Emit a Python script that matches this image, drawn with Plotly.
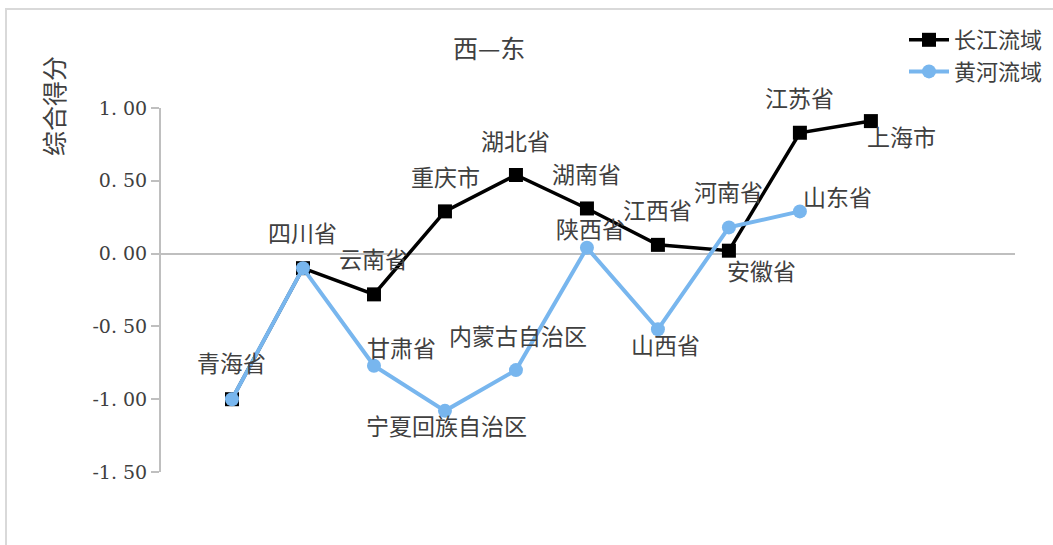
import plotly.graph_objects as go

# ---- data ----
cj_names = ["青海省", "四川省", "云南省", "重庆市", "湖北省", "湖南省", "江西省", "安徽省", "江苏省", "上海市"]
cj_values = [-1.00, -0.10, -0.28, 0.29, 0.54, 0.31, 0.06, 0.02, 0.83, 0.91]

hh_names = ["青海省", "四川省", "甘肃省", "宁夏回族自治区", "内蒙古自治区", "陕西省", "山西省", "河南省", "山东省"]
hh_values = [-1.00, -0.10, -0.77, -1.08, -0.80, 0.04, -0.52, 0.18, 0.29]

series_names = ["长江流域", "黄河流域"]
y_tick_values = [1.0, 0.5, 0.0, -0.5, -1.0, -1.5]
y_tick_labels = ["1. 00", "0. 50", "0. 00", "-0. 50", "-1. 00", "-1. 50"]
chart_title = "西—东"
y_title = "综合得分"

# ---- label offsets (pixels: dx, dy up) ----
cj_offsets = {
    "四川省": (0, 36), "云南省": (0, 36), "重庆市": (1, 35), "湖北省": (0, 35),
    "湖南省": (0, 35), "江西省": (0, 36), "安徽省": (33, -19), "江苏省": (0, 36),
    "上海市": (31, -15),
}
hh_offsets = {
    "青海省": (0, 37), "甘肃省": (28, 19), "宁夏回族自治区": (2, -14),
    "内蒙古自治区": (2, 35), "陕西省": (4, 20), "山西省": (8, -15),
    "河南省": (0, 36), "山东省": (38, 15),
}

CJK = "Noto Sans CJK SC"
TXT = "#404040"
BLACK = "#000000"
BLUE = "#78b6ee"

cj_x = list(range(1, len(cj_values) + 1))
hh_x = list(range(1, len(hh_values) + 1))

fig = go.Figure()
fig.add_trace(go.Scatter(
    x=cj_x, y=cj_values, name=series_names[0], mode="lines+markers",
    line=dict(color=BLACK, width=3.5),
    marker=dict(symbol="square", size=14, color=BLACK),
))
fig.add_trace(go.Scatter(
    x=hh_x, y=hh_values, name=series_names[1], mode="lines+markers",
    line=dict(color=BLUE, width=4),
    marker=dict(symbol="circle", size=14, color=BLUE),
))

annotations = []
for xs, ys, names, offs in [(cj_x, cj_values, cj_names, cj_offsets),
                            (hh_x, hh_values, hh_names, hh_offsets)]:
    for xv, yv, nm in zip(xs, ys, names):
        if nm not in offs:
            continue
        dx, dy = offs[nm]
        annotations.append(dict(
            x=xv, y=yv, xref="x", yref="y", text=nm, showarrow=False,
            xshift=dx, yshift=dy, font=dict(family=CJK, size=23, color=TXT),
            xanchor="center", yanchor="middle",
        ))

annotations.append(dict(
    x=(489 - 161) / 854, y=(472 - 47) / 364, xref="paper", yref="paper",
    text=chart_title, showarrow=False, xanchor="center", yanchor="middle",
    font=dict(family=CJK, size=25, color=TXT),
))
annotations.append(dict(
    x=(53 - 161) / 854, y=(472 - 106) / 364, xref="paper", yref="paper",
    text=y_title, showarrow=False, textangle=-90, xanchor="center", yanchor="middle",
    font=dict(family=CJK, size=25, color=TXT),
))

fig.update_layout(
    width=1053, height=545,
    margin=dict(l=161, r=38, t=108, b=73, autoexpand=False),
    paper_bgcolor="white", plot_bgcolor="white",
    showlegend=True,
    legend=dict(
        x=(904 - 161) / 854, y=(472 - 19) / 364, xanchor="left", yanchor="top",
        font=dict(family=CJK, size=22, color=TXT),
        bgcolor="rgba(0,0,0,0)", tracegroupgap=0, itemwidth=40,
    ),
    annotations=annotations,
    shapes=[dict(
        type="rect", xref="paper", yref="paper",
        x0=(6 - 161) / 854, x1=1.3, y0=-0.6, y1=(472 - 9) / 364,
        line=dict(color="#d9d9d9", width=2), fillcolor="rgba(0,0,0,0)", layer="below",
    )],
)
fig.update_xaxes(
    range=[0, 12.03], showgrid=False, zeroline=False, showline=False,
    showticklabels=False, ticks="",
)
fig.update_yaxes(
    range=[-1.5, 1.0], tickvals=y_tick_values, ticktext=y_tick_labels,
    showgrid=False, zeroline=True, zerolinecolor="#bfbfbf", zerolinewidth=2,
    showline=True, linecolor="#bfbfbf", linewidth=2,
    ticks="outside", ticklen=8, tickcolor="#bfbfbf", tickwidth=2,
    tickfont=dict(family="DejaVu Serif", size=19, color=TXT),
)

fig.write_html("out.html")
